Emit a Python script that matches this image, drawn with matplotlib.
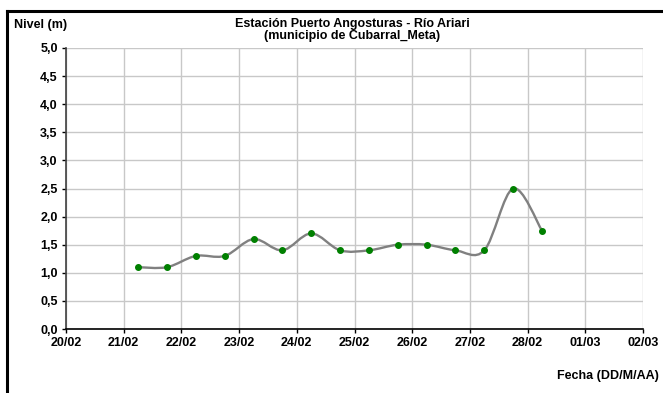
import matplotlib
matplotlib.use("Agg")
import matplotlib.pyplot as plt
import matplotlib.dates as mdates
from matplotlib.path import Path
from matplotlib.patches import PathPatch
from matplotlib.lines import Line2D
import numpy as np
import pandas as pd

plt.rcParams['font.family'] = ['Liberation Sans', 'DejaVu Sans']

# ---- data ----
times = ["2011-02-21 06:00", "2011-02-21 18:00", "2011-02-22 06:00", "2011-02-22 18:00",
         "2011-02-23 06:00", "2011-02-23 18:00", "2011-02-24 06:00", "2011-02-24 18:00",
         "2011-02-25 06:00", "2011-02-25 18:00", "2011-02-26 06:00", "2011-02-26 18:00",
         "2011-02-27 06:00", "2011-02-27 18:00", "2011-02-28 06:00"]
nivel = [1.1, 1.1, 1.3, 1.3, 1.6, 1.4, 1.7, 1.4, 1.4, 1.5, 1.5, 1.4, 1.4, 2.5, 1.75]
tick_dates = pd.date_range("2011-02-20", "2011-03-02", freq="D")
y_ticks = [0.0, 0.5, 1.0, 1.5, 2.0, 2.5, 3.0, 3.5, 4.0, 4.5, 5.0]

title = "Estación Puerto Angosturas - Río Ariari\n(municipio de Cubarral_Meta)"
ylabel = "Nivel (m)"
xlabel = "Fecha (DD/M/AA)"

FS = 9

# ---- figure ----
W, H = 663, 393
fig = plt.figure(figsize=(W / 100, H / 100), dpi=100)
ax = fig.add_axes([66 / W, 1 - 329 / H, (643 - 66) / W, (329 - 48) / H])

x = mdates.date2num(pd.to_datetime(times))
y = np.array(nivel)

# smoothed line (Catmull-Rom -> cubic Bezier), drawn in data coordinates
verts = [(x[0], y[0])]
codes = [Path.MOVETO]
n = len(x)
for i in range(n - 1):
    p0 = (x[i - 1], y[i - 1]) if i > 0 else (x[i], y[i])
    p1 = (x[i], y[i])
    p2 = (x[i + 1], y[i + 1])
    p3 = (x[i + 2], y[i + 2]) if i + 2 < n else (x[i + 1], y[i + 1])
    t = 1 / 6
    c1 = (p1[0] + (p2[0] - p0[0]) * t, p1[1] + (p2[1] - p0[1]) * t)
    c2 = (p2[0] - (p3[0] - p1[0]) * t, p2[1] - (p3[1] - p1[1]) * t)
    verts += [c1, c2, p2]
    codes += [Path.CURVE4] * 3
ax.add_patch(PathPatch(Path(verts, codes), facecolor="none", edgecolor="#808080",
                       lw=1.7, zorder=3, capstyle="round", joinstyle="round"))
ax.plot(x, y, linestyle="none", marker="o", ms=4.0, color="#008000", zorder=4)

tnum = mdates.date2num(tick_dates)
ax.set_xlim(tnum[0], tnum[-1])
ax.set_ylim(0, 5)
ax.set_xticks(tnum)
ax.set_xticklabels([d.strftime("%d/%m") for d in tick_dates], fontsize=FS, fontweight="bold")
ax.set_yticks(y_ticks)
ax.set_yticklabels([f"{v:.1f}".replace(".", ",") for v in y_ticks], fontsize=FS, fontweight="bold")
ax.tick_params(axis="both", direction="out", length=3, width=1, color="black", pad=3)
ax.tick_params(axis="x", pad=2.5)

ax.grid(True, color="#c8c8c8", lw=1)
ax.set_axisbelow(True)
for s in ["top", "right"]:
    ax.spines[s].set_visible(False)
ax.spines["left"].set_color("#404040")
ax.spines["bottom"].set_color("black")
ax.spines["left"].set_linewidth(1.2)
ax.spines["bottom"].set_linewidth(1.2)

fig.text(352 / W, 1 - 30 / H, title, ha="center", va="center", fontsize=FS,
         fontweight="bold", linespacing=0.95)
fig.text(14 / W, 1 - 25 / H, ylabel, ha="left", va="center", fontsize=FS, fontweight="bold")
fig.text(659 / W, 1 - 376 / H, xlabel, ha="right", va="center", fontsize=FS, fontweight="bold")

# outer frame (left and top visible)
fig.add_artist(Line2D([7 / W, 7 / W], [0, 1 - 10.5 / H], transform=fig.transFigure,
                      color="black", lw=2.2, solid_capstyle="projecting"))
fig.add_artist(Line2D([7 / W, 1], [1 - 10.5 / H, 1 - 10.5 / H], transform=fig.transFigure,
                      color="black", lw=2.2, solid_capstyle="projecting"))

fig.savefig("out.png", dpi=100)
